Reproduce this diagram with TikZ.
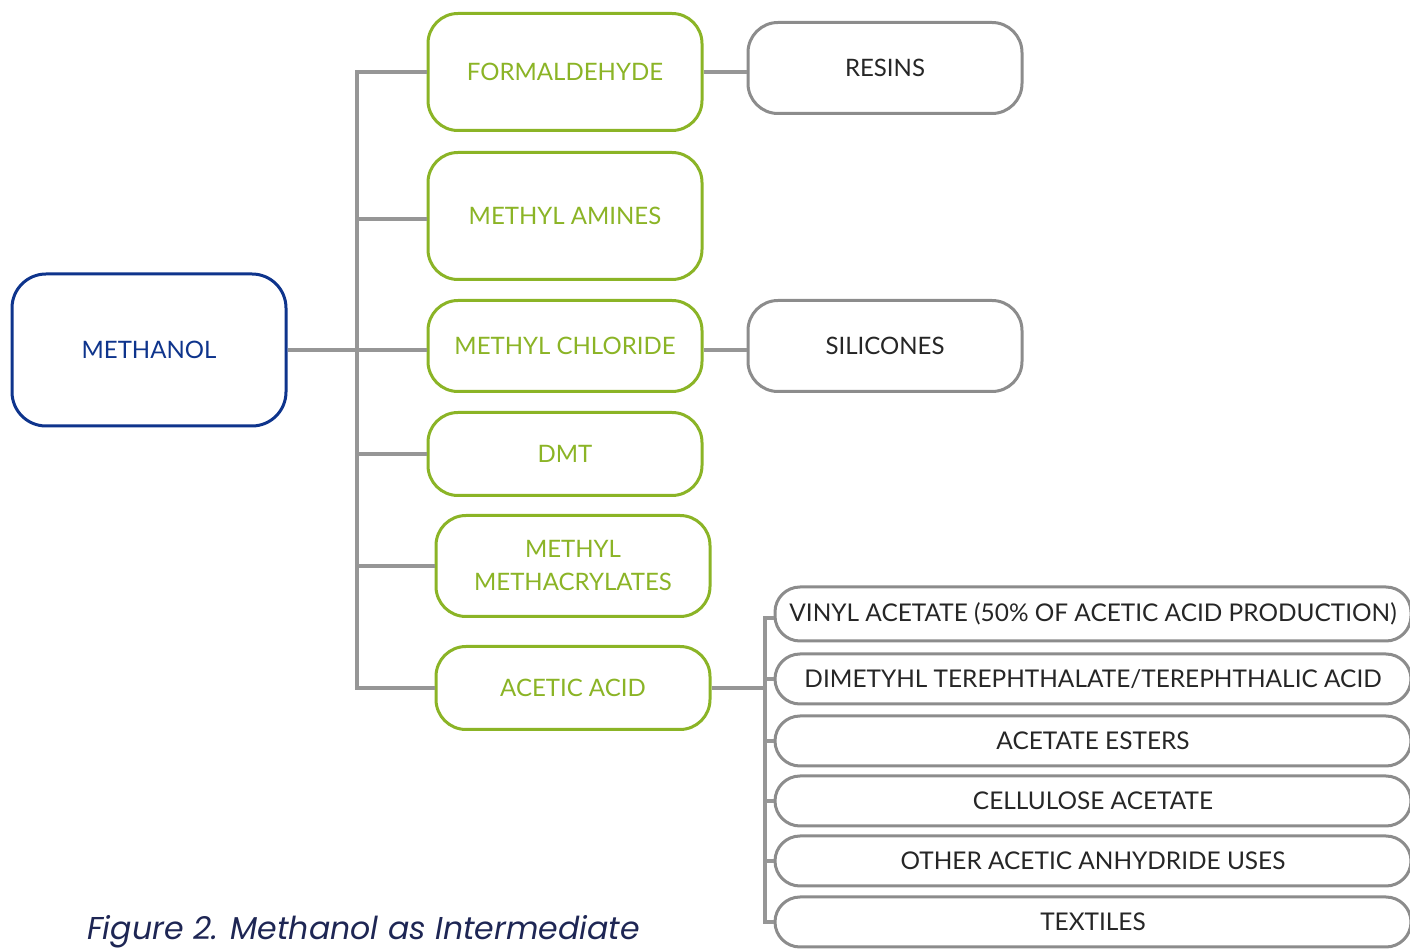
\documentclass[tikz,border=0pt]{standalone}
\usepackage{fontspec}
\setmainfont{Lato}
\newfontfamily\capfont{Poppins}
\usetikzlibrary{positioning}
\definecolor{MethBlue}{RGB}{14,52,140}
\definecolor{LeafGreen}{RGB}{139,180,38}
\definecolor{LineGray}{RGB}{150,150,150}
\definecolor{BoxGray}{RGB}{140,140,140}
\definecolor{CapNavy}{RGB}{30,38,84}
\tikzset{
  source/.style={draw=MethBlue,rounded corners=17pt,fill=white,
    line width=1.5pt,minimum width=137pt,minimum height=76pt,
    text=MethBlue,align=center,font=\fontsize{12}{14}\selectfont},
  product/.style={draw=LeafGreen,rounded corners=15pt,fill=white,
    line width=1.5pt,minimum width=137pt,minimum height=41.5pt,
    text=LeafGreen,align=center,font=\fontsize{12}{16.5}\selectfont},
  enduse/.style={draw=BoxGray,rounded corners=15pt,fill=white,
    line width=1.5pt,minimum width=137pt,minimum height=45.5pt,
    text=black!85,align=center,font=\fontsize{12}{14}\selectfont},
  acetuse/.style={draw=BoxGray,rounded corners=12.5pt,fill=white,
    line width=1.5pt,minimum width=318pt,minimum height=25pt,
    text=black!85,align=center,font=\fontsize{12.2}{14}\selectfont},
  link/.style={draw=LineGray,line width=1.8pt}
}

\begin{document}
\begin{tikzpicture}[x=0.5pt,y=-0.5pt]
      \useasboundingbox (0,0) rectangle (1410,951);
      \clip (0,0) rectangle (1410,951);

      \node[source] (methanol) at (149,350) {METHANOL};

      \node[product,minimum height=58.5pt] (formaldehyde) at (565,72) {FORMALDEHYDE};
      \node[product,minimum height=63.5pt] (amines) at (565,216) {METHYL AMINES};
      \node[product,minimum height=45.5pt] (chloride) at (565,346) {METHYL CHLORIDE};
      \node[product] (dmt) at (565,454) {DMT};
      \node[product,minimum height=50.5pt] (methacrylates) at (573,566)
        {METHYL\\METHACRYLATES};
      \node[product] (acetic) at (573,688) {ACETIC ACID};

      \node[enduse] (resins) at (885,68) {RESINS};
      \node[enduse] (silicones) at (885,346) {SILICONES};

      \node[acetuse,minimum height=27pt] (vinyl) at (1093,614)
        {VINYL ACETATE (50\% OF ACETIC ACID PRODUCTION)};
      \node[acetuse] (terephthalic) at (1093,679)
        {DIMETYHL TEREPHTHALATE/TEREPHTHALIC ACID};
      \node[acetuse] (esters) at (1093,741) {ACETATE ESTERS};
      \node[acetuse] (cellulose) at (1093,801) {CELLULOSE ACETATE};
      \node[acetuse] (anhydride) at (1093,861) {OTHER ACETIC ANHYDRIDE USES};
      \node[acetuse] (textiles) at (1093,922) {TEXTILES};

      \coordinate (fork) at (357,350);
      \coordinate (split) at (765,688);

      % methanol tree
      \draw[link] (methanol.east) -- (methanol.east -| chloride.west);
      \draw[link] (formaldehyde.west) -| (fork) |- (acetic.west);
      \draw[link] ([yshift=-1.5pt]amines.west) -- ([yshift=-1.5pt]amines.west -| fork);
      \draw[link] (dmt.west) -- (dmt.west -| fork);
      \draw[link] (methacrylates.west) -- (methacrylates.west -| fork);

      % second level
      \draw[link] (formaldehyde.east) -- (resins.west |- formaldehyde.east);
      \draw[link] ([yshift=-2pt]chloride.east) -- ([yshift=-2pt]silicones.west);
      \draw[link] (acetic.east) -- (split);
      \draw[link] ([yshift=-2pt]vinyl.west) -| (split) |- (textiles.west);
      \draw[link] (terephthalic.west) -- (terephthalic.west -| split);
      \draw[link] (esters.west) -- (esters.west -| split);
      \draw[link] (cellulose.west) -- (cellulose.west -| split);
      \draw[link] (anhydride.west) -- (anhydride.west -| split);

      \node[anchor=base west,text=CapNavy,font=\capfont\fontsize{15.8}{18}\selectfont\itshape]
        (caption) at (80,940) {Figure 2. Methanol as Intermediate};
    \end{tikzpicture}
\end{document}
